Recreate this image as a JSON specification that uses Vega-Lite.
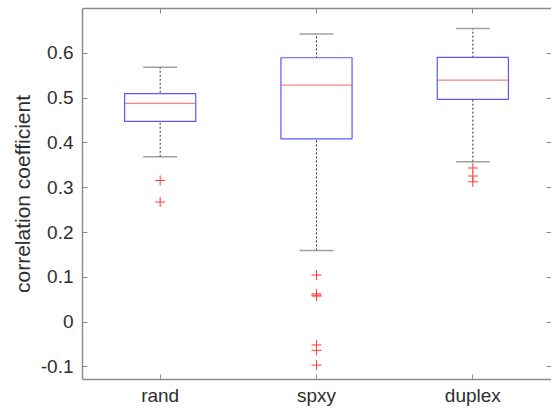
{
  "$schema": "https://vega.github.io/schema/vega-lite/v6.json",
  "width": 469,
  "height": 371,
  "autosize": "none",
  "padding": {"left": 82, "top": 8, "right": 0, "bottom": 31},
  "background": "white",
  "config": {
    "view": {"stroke": null},
    "font": "Liberation Sans",
    "axis": {"domainColor": "#8c8c8c", "tickColor": "#8c8c8c", "domainWidth": 1.5, "tickWidth": 1, "labelColor": "#2e2e2e", "titleColor": "#2e2e2e", "labelFont": "Liberation Sans", "titleFont": "Liberation Sans", "grid": false}
  },
  "datasets": {
    "boxes": [
      {"method": "rand", "lw": 0.368, "q1": 0.447, "med": 0.487, "q3": 0.509, "uw": 0.568},
      {"method": "spxy", "lw": 0.159, "q1": 0.408, "med": 0.528, "q3": 0.589, "uw": 0.642},
      {"method": "duplex", "lw": 0.357, "q1": 0.496, "med": 0.539, "q3": 0.590, "uw": 0.654}
    ],
    "outliers": [
      {"method": "rand", "value": 0.315},
      {"method": "rand", "value": 0.267},
      {"method": "spxy", "value": 0.104},
      {"method": "spxy", "value": 0.062},
      {"method": "spxy", "value": 0.059},
      {"method": "spxy", "value": 0.057},
      {"method": "spxy", "value": -0.052},
      {"method": "spxy", "value": -0.064},
      {"method": "spxy", "value": -0.097},
      {"method": "duplex", "value": 0.343},
      {"method": "duplex", "value": 0.325},
      {"method": "duplex", "value": 0.312}
    ]
  },
  "resolve": {"axis": {"x": "independent", "y": "independent"}},
  "layer": [
    {
      "data": {"name": "boxes"},
      "mark": {"type": "rule", "color": "#333333", "strokeDash": [2, 2], "strokeWidth": 1},
      "encoding": {
        "x": {"field": "method", "type": "nominal", "sort": ["rand", "spxy", "duplex"],
          "scale": {"type": "band", "domain": ["rand", "spxy", "duplex"], "paddingInner": 0, "paddingOuter": 0},
          "axis": {"orient": "bottom", "title": null, "labelAngle": 0, "labelFontSize": 19, "tickSize": -5, "labelPadding": 12, "domainColor": "#8c8c8c"}},
        "y": {"field": "lw", "type": "quantitative",
          "scale": {"domain": [-0.128, 0.7], "nice": false, "zero": false},
          "axis": {"orient": "left", "title": "correlation coefficient", "titleFontSize": 21, "titleFontWeight": "normal", "titlePadding": 7,
            "values": [-0.1, 0, 0.1, 0.2, 0.3, 0.4, 0.5, 0.6], "labelExpr": "toString(datum.value)", "labelFontSize": 19, "tickSize": -5, "labelPadding": 14}},
        "y2": {"field": "uw"}
      }
    },
    {
      "data": {"name": "boxes"},
      "mark": {"type": "bar", "fill": "white", "stroke": "#5a5aff", "strokeWidth": 1.2, "width": {"band": 0.455}},
      "encoding": {
        "x": {"field": "method", "type": "nominal", "sort": ["rand", "spxy", "duplex"],
          "axis": {"orient": "top", "title": null, "labels": false, "tickSize": -5, "domainColor": "#8c8c8c"}},
        "y": {"field": "q1", "type": "quantitative",
          "axis": {"orient": "right", "title": null, "labels": false, "domain": false, "tickSize": -5,
            "values": [-0.1, 0, 0.1, 0.2, 0.3, 0.4, 0.5, 0.6]}},
        "y2": {"field": "q3"}
      }
    },
    {
      "data": {"name": "boxes"},
      "mark": {"type": "tick", "color": "#ff4a4a", "thickness": 1.2, "size": 71},
      "encoding": {
        "x": {"field": "method", "type": "nominal", "sort": ["rand", "spxy", "duplex"], "axis": null},
        "y": {"field": "med", "type": "quantitative", "axis": null}
      }
    },
    {
      "data": {"name": "boxes"},
      "mark": {"type": "tick", "color": "#777777", "thickness": 1.5, "size": 34},
      "encoding": {
        "x": {"field": "method", "type": "nominal", "sort": ["rand", "spxy", "duplex"], "axis": null},
        "y": {"field": "uw", "type": "quantitative", "axis": null}
      }
    },
    {
      "data": {"name": "boxes"},
      "mark": {"type": "tick", "color": "#777777", "thickness": 1.5, "size": 34},
      "encoding": {
        "x": {"field": "method", "type": "nominal", "sort": ["rand", "spxy", "duplex"], "axis": null},
        "y": {"field": "lw", "type": "quantitative", "axis": null}
      }
    },
    {
      "data": {"name": "outliers"},
      "mark": {"type": "point", "shape": "M-1,0H1M0,-1V1", "filled": false, "stroke": "#ff3b3b", "strokeWidth": 1, "size": 100, "opacity": 1},
      "encoding": {
        "x": {"field": "method", "type": "nominal", "sort": ["rand", "spxy", "duplex"], "axis": null},
        "y": {"field": "value", "type": "quantitative", "axis": null}
      }
    }
  ]
}
